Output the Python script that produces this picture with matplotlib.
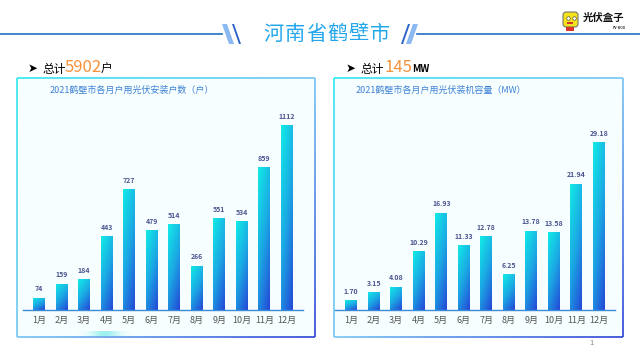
import numpy as np
import matplotlib
matplotlib.use("Agg")
import matplotlib.pyplot as plt
from matplotlib.patches import FancyBboxPatch, Polygon, Rectangle
from matplotlib.collections import LineCollection
from matplotlib.colors import LinearSegmentedColormap

plt.rcParams['font.family'] = ['Noto Sans CJK SC', 'DejaVu Sans']

months = ["1月", "2月", "3月", "4月", "5月", "6月", "7月", "8月", "9月", "10月", "11月", "12月"]
households = [74, 159, 184, 443, 727, 479, 514, 266, 551, 534, 859, 1112]
capacity_mw = [1.70, 3.15, 4.08, 10.29, 16.93, 11.33, 12.78, 6.25, 13.78, 13.58, 21.94, 29.18]
cap_labels = ["1.70", "3.15", "4.08", "10.29", "16.93", "11.33", "12.78", "6.25", "13.78", "13.58", "21.94", "29.18"]
page_title = "河南省鹤壁市"

W, H = 640, 360
fig = plt.figure(figsize=(6.4, 3.6), dpi=100)
fig.patch.set_facecolor("white")

bar_cmap = LinearSegmentedColormap.from_list("bar", ["#12ECE6", "#1BA8E4", "#2447D6"])
edge_cmap = LinearSegmentedColormap.from_list("edge", ["#3EE8F0", "#7FC9F5", "#3A4FD8"])


def px_axes(l, t, r, b, **kw):
    return fig.add_axes([l / W, 1 - b / H, (r - l) / W, (b - t) / H], **kw)


# background overlay axes in pixel coords
bg = px_axes(0, 0, W, H)
bg.set_xlim(0, W)
bg.set_ylim(H, 0)
bg.axis("off")

# header lines and slashes
bg.plot([0, 222], [34, 34], color="#1F6FC2", lw=1.2)
bg.plot([417, W], [34, 34], color="#1F6FC2", lw=1.2)
bg.add_patch(Polygon([[222, 24], [227, 24], [234, 44], [229, 44]], closed=True, color="#8CB9F2", lw=0))
bg.add_patch(Polygon([[232, 24], [234, 24], [241, 44], [239, 44]], closed=True, color="#2C63C8", lw=0))
bg.add_patch(Polygon([[408, 24], [410, 24], [403, 44], [401, 44]], closed=True, color="#2C63C8", lw=0))
bg.add_patch(Polygon([[413, 24], [418, 24], [411, 44], [406, 44]], closed=True, color="#8CB9F2", lw=0))
for i, ch in enumerate(page_title):
    bg.text(273.5 + i * 21.3, 34, ch, color="#22A6EC", fontsize=14.5, ha="center", va="center")

# logo
bg.add_patch(FancyBboxPatch((563, 12), 15, 15, boxstyle="round,pad=0,rounding_size=3",
                            fc="#F4E21C", ec="#666666", lw=0.7, zorder=3))
bg.add_patch(Rectangle((566, 27), 8, 4, fc="#D9342B", lw=0, zorder=3))
bg.plot([567.5, 573.5], [17.5, 17.5], "o", ms=2.5, mfc="white", mec="#333333", mew=0.4, zorder=4)
bg.add_patch(Rectangle((567, 21.5), 6, 2, fc="#D9342B", lw=0, zorder=4))
bg.text(583, 18, "光伏盒子", fontsize=7.5, fontweight="bold", color="#111111", va="center")
bg.text(613, 28, "PV-BOX", fontsize=2.5, color="#333333", va="center", fontweight="bold")


def panel_frame(l, t, r, b):
    bg.add_patch(FancyBboxPatch((l, t), r - l, b - t, boxstyle="round,pad=0,rounding_size=7",
                                fc="#F6FEFF", ec="none", zorder=0))
    p = FancyBboxPatch((l, t), r - l, b - t, boxstyle="round,pad=0,rounding_size=7")
    verts = p.get_path().interpolated(40).vertices
    segs = np.stack([verts[:-1], verts[1:]], axis=1)
    mid = segs.mean(axis=1)
    tval = 0.5 * (mid[:, 0] - l) / (r - l) + 0.5 * (mid[:, 1] - t) / (b - t)
    lc = LineCollection(segs, colors=edge_cmap(tval), linewidths=1.3, zorder=1)
    bg.add_collection(lc)


panel_frame(17, 78, 315, 337)
panel_frame(334, 78, 623, 337)

# faint glow under left panel
glow = np.linspace(0, 1, 50)
glow = np.exp(-((glow - 0.5) / 0.3) ** 2)[None, :]
bg.imshow(glow, extent=(70, 140, 336, 331), cmap=LinearSegmentedColormap.from_list("g", ["#FFFFFF00", "#9FF1F0"]),
          aspect="auto", zorder=2)

# section headings
bg.text(28, 68, "➤", fontsize=8.5, color="black", va="center", family=["DejaVu Sans"])
bg.text(42, 69, "总计", fontsize=8.5, color="black", va="center")
bg.text(65, 67.5, "5902", fontsize=12, color="#F7923A", va="center")
bg.text(101, 69, "户", fontsize=8.5, color="black", va="center")
bg.text(346, 68, "➤", fontsize=8.5, color="black", va="center", family=["DejaVu Sans"])
bg.text(360, 69, "总计", fontsize=8.5, color="black", va="center")
bg.text(384, 67.5, "145", fontsize=12, color="#F7923A", va="center")
bg.text(412, 69, "MW", fontsize=7, color="black", va="center", fontweight="bold")

bg.text(50, 90, "2021鹤壁市各月户用光伏安装户数（户）", fontsize=6.5, color="#3E82D6", va="center")
bg.text(356, 90, "2021鹤壁市各月户用光伏装机容量（MW）", fontsize=6.5, color="#3E82D6", va="center")
bg.text(589, 343, "1", fontsize=5.5, color="#888888", va="center")

yy, xx = np.mgrid[0:1:64j, 0:1:64j]
grad = 0.65 * yy + 0.35 * xx  # row 0 is top (origin upper)


def draw_bars(ax, values, labels, ymax):
    x = np.arange(len(values))
    bars = ax.bar(x, values, width=0.52, color="none", zorder=2)
    for rect in bars:
        bx, by = rect.get_x(), rect.get_y()
        bw, bh = rect.get_width(), rect.get_height()
        im = ax.imshow(grad, cmap=bar_cmap, extent=(bx, bx + bw, by, by + bh),
                       origin="upper", aspect="auto", zorder=2, vmin=0, vmax=1)
        im.set_clip_path(rect)
    for xi, v, lab in zip(x, values, labels):
        ax.text(xi, v + ymax * 0.025, lab, ha="center", va="bottom", fontsize=5,
                fontweight="bold", color="#4B5590")
    ax.set_xlim(-0.72, len(values) - 0.28)
    ax.set_ylim(0, ymax)
    ax.set_xticks(x)
    ax.set_xticklabels(months, fontsize=6.5, color="#555555")
    ax.tick_params(axis="x", length=0, pad=4)
    ax.set_yticks([])
    for s in ["top", "right", "left"]:
        ax.spines[s].set_visible(False)
    ax.spines["bottom"].set_color("#3C8BD8")
    ax.spines["bottom"].set_linewidth(1.0)
    ax.patch.set_alpha(0)


ax1 = px_axes(23, 100, 303, 310)
draw_bars(ax1, households, [str(v) for v in households], 1112 * 210 / 185)

ax2 = px_axes(335, 100, 615, 310)
draw_bars(ax2, capacity_mw, cap_labels, 29.18 * 210 / 168)

fig.savefig("out.png", dpi=100)
